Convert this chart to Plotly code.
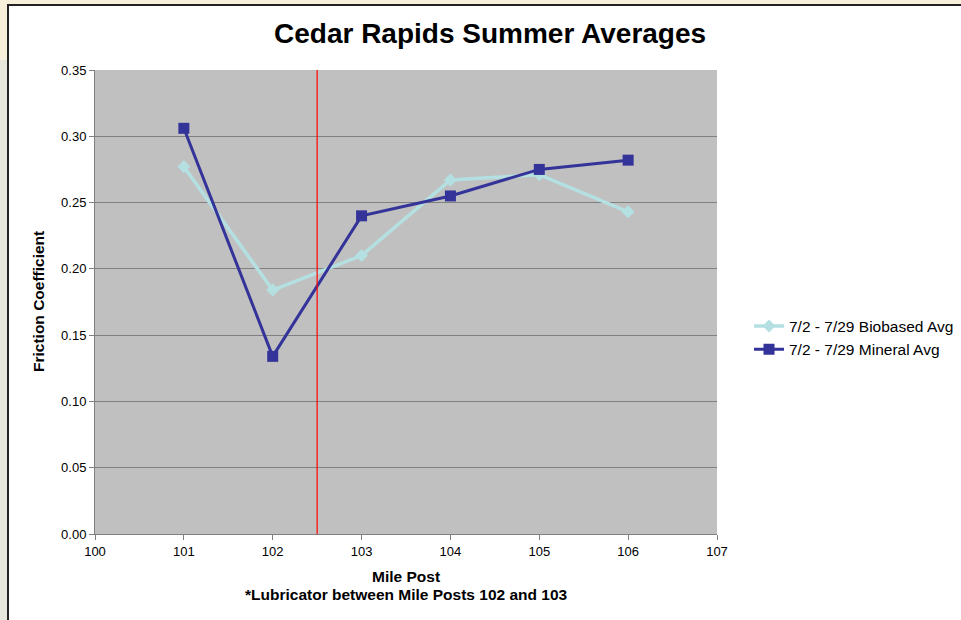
import plotly.graph_objects as go

mile_posts = [101, 102, 103, 104, 105, 106]
biobased_avg = [0.277, 0.184, 0.210, 0.267, 0.271, 0.243]
mineral_avg = [0.306, 0.134, 0.240, 0.255, 0.275, 0.282]
lubricator_mp = 102.5
x_ticks = [100, 101, 102, 103, 104, 105, 106, 107]
y_ticks = [0.00, 0.05, 0.10, 0.15, 0.20, 0.25, 0.30, 0.35]

W, H = 961, 620
L, R, T, B = 95, 717, 70, 534
pw, ph = R - L, B - T

def px(xp):
    return (xp - L) / pw

def py(yp):
    return (B - yp) / ph

FONT = "Liberation Sans, Arial, sans-serif"

fig = go.Figure()
fig.add_trace(go.Scatter(
    x=mile_posts, y=biobased_avg, mode="lines+markers",
    name="7/2 - 7/29 Biobased Avg",
    line=dict(color="#b4e0e2", width=3.5),
    marker=dict(symbol="diamond", size=10, color="#b4e0e2"),
))
fig.add_trace(go.Scatter(
    x=mile_posts, y=mineral_avg, mode="lines+markers",
    name="7/2 - 7/29 Mineral Avg",
    line=dict(color="#333399", width=3),
    marker=dict(symbol="square", size=11, color="#333399"),
))

shapes = [
    # left background strip (greyish)
    dict(type="rect", xref="paper", yref="paper",
         x0=px(-5), x1=px(9), y0=py(640), y1=py(60),
         fillcolor="#e6e6dc", line=dict(width=0), layer="below"),
    # white chart area with dark border
    dict(type="rect", xref="paper", yref="paper",
         x0=px(8), x1=px(975), y0=py(640), y1=py(5),
         fillcolor="white", line=dict(color="#222222", width=2), layer="below"),
    # grey plot area
    dict(type="rect", xref="paper", yref="paper", x0=0, x1=1, y0=0, y1=1,
         fillcolor="#c0c0c0", line=dict(width=0), layer="below"),
    dict(type="line", xref="x", yref="paper", x0=lubricator_mp, x1=lubricator_mp,
         y0=0, y1=1, line=dict(color="#ff0000", width=1.2)),
]

annotations = [
    dict(text="<b>Cedar Rapids Summer Averages</b>", xref="paper", yref="paper",
         x=px(490), y=py(34), showarrow=False, xanchor="center", yanchor="middle",
         font=dict(family=FONT, size=28, color="black")),
    dict(text="<b>Mile Post</b>", xref="paper", yref="paper",
         x=px(406), y=py(576), showarrow=False, xanchor="center", yanchor="middle",
         font=dict(family=FONT, size=15.5, color="black")),
    dict(text="<b>*Lubricator between Mile Posts 102 and 103</b>", xref="paper", yref="paper",
         x=px(406), y=py(594), showarrow=False, xanchor="center", yanchor="middle",
         font=dict(family=FONT, size=15.5, color="black")),
    dict(text="<b>Friction Coefficient</b>", xref="paper", yref="paper",
         x=px(38), y=py(302), showarrow=False, textangle=-90, xanchor="center", yanchor="middle",
         font=dict(family=FONT, size=15.5, color="black")),
]

fig.update_layout(
    width=W, height=H,
    margin=dict(l=L, r=W - R, t=T, b=H - B, autoexpand=False),
    paper_bgcolor="#f8f0da",
    plot_bgcolor="#c0c0c0",
    shapes=shapes,
    annotations=annotations,
    showlegend=True,
    legend=dict(x=px(749), y=py(338), xanchor="left", yanchor="middle",
                font=dict(family=FONT, size=15.5, color="black"),
                bgcolor="rgba(0,0,0,0)", tracegroupgap=9),
    hovermode=False,
    font=dict(family=FONT, size=13, color="black"),
)
fig.update_xaxes(
    range=[100, 107], tickvals=x_ticks, ticktext=[str(v) for v in x_ticks],
    showgrid=False, zeroline=False, showline=True, linecolor="#808080", linewidth=1,
    ticks="outside", ticklen=5, tickcolor="#808080",
    tickfont=dict(family=FONT, size=13, color="black"),
)
fig.update_yaxes(
    range=[0, 0.35], tickvals=y_ticks, ticktext=[f"{v:.2f}" for v in y_ticks],
    showgrid=True, gridcolor="#808080", gridwidth=1, zeroline=False,
    showline=True, linecolor="#808080", linewidth=1,
    ticks="outside", ticklen=5, tickcolor="#808080",
    tickfont=dict(family=FONT, size=13, color="black"),
)

fig.write_html(
    "out.html",
    config={"displayModeBar": False},
    post_script="document.body.style.margin='0';document.body.style.overflow='hidden';",
)
